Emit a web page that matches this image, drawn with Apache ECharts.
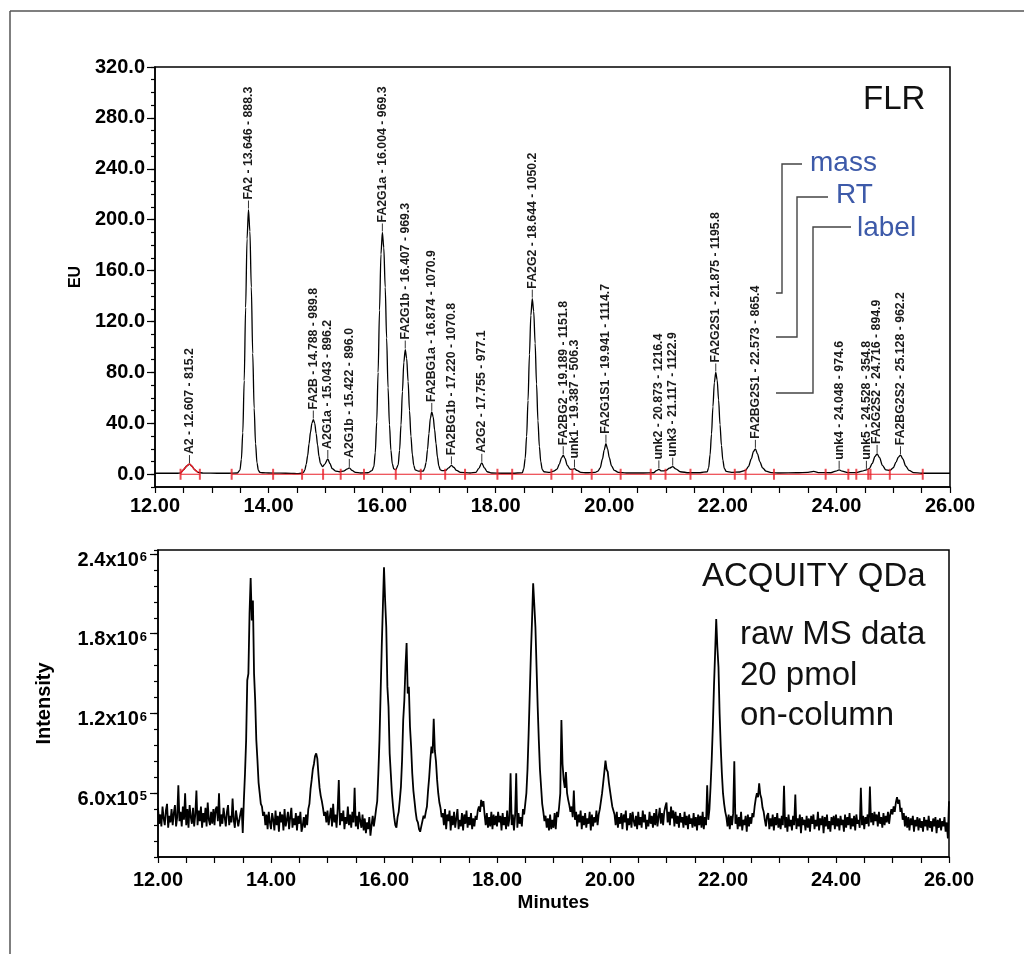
<!DOCTYPE html>
<html>
<head>
<meta charset="utf-8">
<title>FLR / ACQUITY QDa</title>
<script src="https://cdn.jsdelivr.net/npm/echarts@6/dist/echarts.min.js"></script>
<style>
  html, body { margin: 0; padding: 0; background: #fff; }
  #chart { width: 1024px; height: 954px; }
</style>
</head>
<body>
<div id="chart"></div>
<script>
  // FLR trace, [minutes, EU]
  let flrTrace = [
    [12.0,0.8],[12.2,0.8],[12.4,0.8],[12.45,1],[12.5,3.5],[12.56,6.5],[12.607,8],[12.65,6.3],[12.70,3.5],[12.76,1.5],[12.85,0.9],[13.1,0.8],[13.3,0.8],[13.45,1],
    [13.496,3.3],[13.521,11.6],[13.546,32.7],[13.571,73.6],[13.596,131],[13.621,185],[13.646,208],
    [13.671,191],[13.696,147],[13.721,95],[13.746,52],[13.771,24],[13.796,9],[13.821,3],[13.846,1.5],
    [13.9,1.2],[14.0,1],[14.2,0.9],[14.4,0.7],[14.5,0.5],[14.6,1],
    [14.613,1.5],[14.638,3.3],[14.663,7.8],[14.688,14.6],[14.713,24],[14.738,33],[14.763,40],[14.788,43],
    [14.813,40],[14.838,32],[14.863,23],[14.888,14],[14.913,8.5],[14.95,6],[14.99,8],[15.043,12],[15.08,8.5],[15.12,4.5],
    [15.18,2.5],[15.25,2],[15.32,2.5],[15.38,4],[15.422,5],[15.47,3],[15.53,1.5],[15.62,1],[15.75,1.2],[15.82,2.8],
    [15.854,6],[15.879,17],[15.904,41],[15.929,80],[15.954,129],[15.979,173],[16.004,190],
    [16.029,178],[16.054,147],[16.079,107],[16.104,68],[16.129,39],[16.154,19],[16.179,8.4],[16.204,4.3],[16.24,3.5],
    [16.282,7.4],[16.307,18.8],[16.332,38.7],[16.357,65],[16.382,88],[16.407,98],
    [16.432,91],[16.457,73],[16.482,50],[16.507,30],[16.532,15.4],[16.557,7],[16.582,3.5],[16.64,2.5],
    [16.724,2.5],[16.749,4.7],[16.774,9.4],[16.799,19.4],[16.824,32],[16.849,44],[16.874,49],
    [16.899,45],[16.924,35],[16.949,24],[16.974,13.4],[16.999,6.4],[17.024,3.5],[17.06,2.8],
    [17.12,3],[17.17,5],[17.22,7],[17.26,5.5],[17.31,3],[17.38,1.5],
    [17.55,1],[17.65,1.5],[17.70,4.5],[17.755,9],[17.8,5],[17.85,2],[17.93,1],[18.1,0.8],[18.3,0.8],
    [18.469,1.2],[18.494,4.3],[18.519,12.4],[18.544,29.7],[18.569,58],[18.594,94],[18.619,125],[18.644,138],
    [18.669,128],[18.694,103],[18.719,71],[18.744,42],[18.769,21.7],[18.794,9.7],[18.819,3.7],[18.85,2],[18.95,1.5],[19.02,2.5],
    [19.08,4],[19.12,8],[19.16,13],[19.189,15],[19.22,12.5],[19.26,7],[19.31,4],[19.35,3.8],[19.387,4.5],[19.43,3],[19.5,1.5],[19.6,1.2],[19.75,1.5],
    [19.8,2.5],[19.84,5],[19.88,12],[19.91,19],[19.941,24],[19.97,20],[20.0,13],[20.04,6.5],[20.09,3],[20.16,1.5],[20.3,1],
    [20.6,1],[20.78,1.2],[20.83,2.8],[20.873,3.8],[20.92,2.6],[20.99,2.8],[21.06,4.8],[21.117,6],[21.17,4.2],[21.25,2],[21.4,1.2],[21.6,1.2],
    [21.725,2],[21.75,5.3],[21.775,15.4],[21.80,31.6],[21.825,53],[21.85,72],[21.875,80],
    [21.90,74],[21.925,58.4],[21.95,39],[21.975,22.7],[22.0,11.2],[22.025,4.7],[22.06,2.2],[22.15,1.5],[22.3,1.8],
    [22.40,3],[22.45,6],[22.5,12],[22.54,18],[22.573,20],[22.61,16],[22.65,10],[22.7,5],[22.76,2.5],[22.85,1.3],[23.0,1],
    [23.3,1.2],[23.5,1.5],[23.6,2.2],[23.7,1.3],[23.9,1.2],[23.99,2.5],[24.048,3.5],[24.1,2.5],[24.2,1.3],[24.35,1.3],
    [24.45,2.4],[24.528,3.5],[24.58,4.5],[24.63,8.5],[24.68,14],[24.716,16],[24.76,13],[24.81,7],[24.87,3.5],[24.94,3],
    [25.0,5],[25.05,9.5],[25.09,13.5],[25.128,15],[25.17,12],[25.22,6.5],[25.28,3],[25.36,1.3],[25.5,0.8],[25.8,0.8],[26.0,0.8]
  ];

  // labelled peaks: name - RT - mass
  let peakNames = ['A2','FA2','FA2B','A2G1a','A2G1b','FA2G1a','FA2G1b','FA2BG1a','FA2BG1b','A2G2','FA2G2',
    'FA2BG2','unk1','FA2G1S1','unk2','unk3','FA2G2S1','FA2BG2S1','unk4','unk5','FA2G2S2','FA2BG2S2'];
  let peakRT = [12.607,13.646,14.788,15.043,15.422,16.004,16.407,16.874,17.220,17.755,18.644,
    19.189,19.387,19.941,20.873,21.117,21.875,22.573,24.048,24.528,24.716,25.128];
  let peakMass = [815.2,888.3,989.8,896.2,896.0,969.3,969.3,1070.9,1070.8,977.1,1050.2,
    1151.8,506.3,1114.7,1216.4,1122.9,1195.8,865.4,974.6,354.8,894.9,962.2];
  let peakHeight = [8,208,43,12,5,190,98,49,7,9,138,15,4.5,24,3.8,6,80,20,3.5,3.5,16,15];

  // integration marks (red)
  let bounds = [12.45,12.79,13.35,14.08,14.59,14.96,15.27,15.68,16.24,16.68,17.11,17.46,18.03,18.29,
    18.98,19.35,19.69,20.20,20.73,20.99,21.43,22.21,22.40,22.90,23.81,24.21,24.35,24.56,24.60,24.94,25.52];
  let baseSegments = [[12.45,12.79],[13.35,25.52]];

  // raw QDa trace: one scan every 0.02 min from 12.00, in units of 1e5 counts (one row per minute)
  let msStart = 12.0;
  let msStep = 0.02;
  let msIntensity = [
    4.9,3.7,4.4,3.5,5.0,4.1,3.6,4.7,5.2,3.4,4.3,3.8,4.8,3.6,4.5,5.1,3.5,4.2,6.6,3.9,4.6,3.5,5.0,4.0,6.0,3.6,4.8,3.4,5.1,4.2,3.7,4.9,3.5,4.4,6.2,3.6,4.7,3.9,5.0,3.4,4.5,3.8,4.9,3.5,5.3,4.0,3.6,4.6,3.7,4.8,
    3.6,4.8,5.0,3.9,6.0,3.5,4.4,3.7,4.9,4.2,3.5,4.6,5.1,3.6,4.3,3.8,5.6,4.0,3.4,4.7,4.8,3.5,3.4,4.5,4.9,3.0,5.5,7.5,10.0,14.5,15.0,19.5,22.2,19.0,20.5,15.0,13.0,10.0,8.5,6.8,6.0,5.2,5.0,4.3,4.6,3.6,4.4,3.3,4.6,3.8,
    3.3,4.5,4.0,3.2,4.7,3.6,4.3,3.1,4.6,3.8,4.4,3.2,4.8,3.5,4.0,4.6,3.3,4.2,4.9,3.4,4.1,3.6,4.5,3.2,4.3,3.7,4.6,3.1,3.5,4.2,3.4,4.4,3.6,4.8,5.2,6.3,7.0,7.8,8.2,8.8,9.0,8.6,7.4,6.4,5.8,5.4,4.9,4.3,4.6,3.8,
    4.7,3.6,4.2,4.9,3.5,5.2,3.8,4.4,3.4,4.8,7.0,3.6,4.5,3.9,4.7,3.3,4.2,3.7,5.0,3.6,4.4,3.4,4.6,3.8,6.4,3.5,4.3,3.3,4.6,3.9,3.4,4.4,3.2,4.1,3.0,3.8,3.3,4.2,2.8,3.6,4.3,3.5,4.1,4.8,5.4,7.5,10.0,13.5,17.0,20.0,
    23.0,20.5,18.5,14.0,12.5,9.0,7.5,6.0,5.0,4.2,3.6,3.4,4.2,4.6,5.5,6.5,8.5,11.5,13.0,15.5,17.3,13.5,14.0,11.0,9.5,7.5,6.2,5.4,4.6,4.0,3.8,3.3,3.1,3.5,3.6,4.3,4.1,4.6,5.0,6.2,7.2,8.5,9.5,9.0,11.6,9.2,8.4,7.0,6.0,5.3,
    4.9,4.2,4.5,3.6,4.8,3.3,4.4,3.9,4.7,3.2,4.3,3.6,4.6,3.4,4.1,4.8,3.3,4.0,3.5,4.5,3.2,4.4,3.7,4.7,3.4,4.2,3.6,4.5,3.3,4.1,3.5,4.3,4.0,4.7,5.0,4.6,5.5,5.0,5.4,4.4,3.6,4.5,3.4,4.2,3.5,4.6,3.3,4.4,3.6,4.3,
    3.5,4.6,3.8,4.3,3.2,4.5,3.6,4.2,3.3,4.7,3.5,4.1,7.5,3.6,4.4,3.2,4.3,7.5,3.4,4.5,3.7,4.2,3.5,4.8,4.4,5.2,6.0,7.8,10.5,13.5,16.5,19.0,21.8,20.2,18.5,15.5,12.5,10.0,7.8,6.5,5.2,4.6,3.9,4.3,3.4,4.1,3.2,4.4,3.3,4.0,
    3.4,4.5,3.3,4.6,4.2,5.0,6.0,11.5,8.2,7.0,6.4,7.6,6.0,5.5,5.1,4.6,5.0,4.2,6.2,4.0,4.6,3.5,4.4,3.8,4.7,3.3,4.3,3.6,4.5,3.4,4.1,3.7,4.6,3.2,4.4,3.5,4.2,3.8,4.7,3.6,4.4,4.8,5.4,6.0,6.8,7.6,8.45,7.8,7.6,6.8,
    6.2,5.6,5.0,4.7,4.4,3.6,4.6,3.4,4.2,3.7,4.5,3.3,4.4,3.8,4.7,3.2,4.1,3.6,4.5,3.4,4.6,3.9,3.5,4.3,3.3,4.6,3.6,4.2,3.4,4.7,3.8,4.4,3.3,4.0,3.5,4.6,3.7,4.3,3.4,4.5,3.6,4.8,3.5,4.2,4.9,3.7,4.5,3.6,4.6,5.0,
    5.3,3.8,4.6,3.6,5.0,4.1,4.7,3.5,4.6,3.7,4.3,3.4,4.5,3.8,4.2,3.4,4.6,3.6,4.3,3.3,4.4,3.7,4.1,3.4,4.5,3.5,4.2,3.2,4.4,3.6,4.3,3.4,4.6,3.3,4.2,3.6,6.6,4.0,4.8,6.5,8.5,11.0,14.0,16.5,19.1,17.0,15.5,12.0,9.5,7.5,
    6.0,5.2,4.6,4.2,3.5,4.4,3.3,4.3,3.6,4.5,8.4,3.7,4.4,3.3,4.2,3.5,4.6,3.2,4.0,3.6,4.3,3.1,4.4,3.5,4.2,3.7,4.5,4.2,5.0,5.6,6.0,5.7,6.75,5.9,5.6,4.9,4.6,4.0,3.5,4.3,4.5,3.3,4.1,3.5,4.4,3.2,4.2,3.6,4.5,3.4,
    4.1,3.3,4.3,3.6,6.55,3.4,4.2,3.1,4.4,3.5,4.0,3.2,4.3,3.6,5.9,3.3,4.1,3.5,4.4,3.0,4.2,3.6,4.0,3.2,4.3,3.4,4.1,3.1,4.3,3.7,4.4,3.3,4.0,3.5,4.6,3.2,4.1,3.6,4.3,3.0,4.2,3.5,4.4,3.3,3.9,3.1,4.2,3.6,4.3,3.3,
    4.4,3.5,4.1,3.2,4.3,3.6,4.0,3.1,4.4,3.4,4.2,3.6,4.5,3.3,4.1,3.5,4.3,3.2,4.4,3.7,4.0,3.4,6.4,3.6,4.3,3.3,4.2,3.7,4.4,3.5,6.5,3.8,4.5,3.6,4.6,3.9,4.4,3.5,4.6,3.7,4.2,3.4,4.5,3.6,4.3,3.8,4.6,3.7,4.4,4.8,
    4.4,5.0,4.6,5.3,5.7,5.2,5.5,4.6,4.9,4.0,4.5,3.5,4.3,3.4,4.2,3.2,4.1,3.6,4.3,3.1,4.0,3.5,4.2,3.2,4.1,3.4,3.9,3.1,4.2,3.5,4.0,3.2,4.3,3.4,3.9,3.1,4.1,3.5,4.2,3.0,4.0,3.4,4.1,3.2,3.9,3.5,4.2,3.1,3.8,2.6,
    5.4
  ];

  let timeTicks = [12, 14, 16, 18, 20, 22, 24, 26];
  let euTicks = [0, 40, 80, 120, 160, 200, 240, 280, 320];
  let msTicks = [6e5, 1.2e6, 1.8e6, 2.4e6];

  let font = '"Liberation Sans", Arial, sans-serif';
  let chart = echarts.init(document.getElementById('chart'));

  function timeAxis(gridIndex, margin) {
    return {
      type: 'value', gridIndex: gridIndex, min: 12, max: 26, interval: 0.5,
      axisLine: {show: true, onZero: false, lineStyle: {color: '#000', width: 1.5}},
      axisTick: {show: true, length: 6, lineStyle: {color: '#000', width: 1.2}},
      axisLabel: {
        customValues: timeTicks, margin: margin,
        color: '#000', fontFamily: font, fontWeight: 'bold', fontSize: 20,
        formatter: function (v) { return v.toFixed(2) }
      },
      splitLine: {show: false}
    }
  }

  let labelSeries = {
    type: 'custom', xAxisIndex: 0, yAxisIndex: 0, z: 5,
    data: peakRT.map(function (rt, i) { return [rt, peakHeight[i]] }),
    renderItem: function (params, api) {
      let p = api.coord([api.value(0), api.value(1)]);
      let i = params.dataIndex;
      let text = peakNames[i] + ' - ' + peakRT[i].toFixed(3) + ' - ' + peakMass[i].toFixed(1);
      return {
        type: 'group',
        children: [
          {type: 'line', shape: {x1: p[0], y1: p[1] - 1, x2: p[0], y2: p[1] - 9},
            style: {stroke: '#333', lineWidth: 1}},
          {type: 'text', x: p[0], y: p[1] - 10, rotation: Math.PI / 2,
            style: {text: text, align: 'left', verticalAlign: 'middle',
              font: 'bold 12.3px ' + font, fill: '#1a1a1a'}}
        ]
      }
    }
  };

  let series = [
    {
      type: 'line', xAxisIndex: 0, yAxisIndex: 0, data: flrTrace,
      smooth: 0.3, smoothMonotone: 'x', symbol: 'none', z: 2,
      lineStyle: {color: '#000', width: 1.3}
    },
    {
      type: 'line', xAxisIndex: 0, yAxisIndex: 0, z: 3, symbol: 'none', smooth: 0.3,
      data: flrTrace.filter(function (p) { return p[0] >= bounds[0] && p[0] <= bounds[1] }),
      lineStyle: {color: '#e8202a', width: 1.5}
    }
  ];
  baseSegments.forEach(function (seg) {
    series.push({
      type: 'line', xAxisIndex: 0, yAxisIndex: 0, z: 3, symbol: 'none',
      data: [[seg[0], 0], [seg[1], 0]],
      lineStyle: {color: '#e8202a', width: 1.2}
    })
  });
  series.push({
    type: 'scatter', xAxisIndex: 0, yAxisIndex: 0, z: 4,
    data: bounds.map(function (b) { return [b, 0] }),
    symbol: 'rect', symbolSize: [2, 11],
    itemStyle: {color: '#e8202a'}
  });
  series.push(labelSeries);
  series.push({
    type: 'line', xAxisIndex: 1, yAxisIndex: 2, symbol: 'none', z: 2,
    data: msIntensity.map(function (v, i) { return [msStart + i * msStep, v * 1e5] }),
    lineStyle: {color: '#000', width: 1.8}
  });

  let option = {
    animation: false,
    backgroundColor: '#fff',
    grid: [
      {left: 155, top: 67, width: 795, height: 420, show: true, borderColor: '#000', borderWidth: 1.5},
      {left: 158, top: 550, width: 791, height: 307, show: true, borderColor: '#000', borderWidth: 1.5}
    ],
    xAxis: [
      timeAxis(0, 9),
      Object.assign(timeAxis(1, 13), {
        name: 'Minutes', nameLocation: 'middle', nameGap: 36,
        nameTextStyle: {color: '#000', fontFamily: font, fontWeight: 'bold', fontSize: 19}
      })
    ],
    yAxis: [
      {
        type: 'value', gridIndex: 0, min: -10, max: 320, interval: 10,
        name: 'EU', nameLocation: 'middle', nameGap: 60,
        nameTextStyle: {color: '#000', fontFamily: font, fontWeight: 'bold', fontSize: 16},
        axisLine: {show: true, onZero: false, lineStyle: {color: '#000', width: 1.5}},
        axisTick: {show: true, length: 4, lineStyle: {color: '#000', width: 1.2}},
        axisLabel: {
          customValues: euTicks, margin: 10,
          color: '#000', fontFamily: font, fontWeight: 'bold', fontSize: 20,
          formatter: function (v) { return v.toFixed(1) }
        },
        splitLine: {show: false}
      },
      {
        // longer ticks at the labelled values
        type: 'value', gridIndex: 0, min: -10, max: 320, position: 'left',
        axisLine: {show: false},
        axisTick: {show: true, customValues: euTicks, length: 8, lineStyle: {color: '#000', width: 1.2}},
        axisLabel: {show: false},
        splitLine: {show: false}
      },
      {
        type: 'value', gridIndex: 1, min: 1.2e5, max: 2.43e6, interval: 1.2e5,
        name: 'Intensity', nameLocation: 'middle', nameGap: 104,
        nameTextStyle: {color: '#000', fontFamily: font, fontWeight: 'bold', fontSize: 20},
        axisLine: {show: true, onZero: false, lineStyle: {color: '#000', width: 1.5}},
        axisTick: {show: true, length: 4, lineStyle: {color: '#000', width: 1.2}},
        axisLabel: {
          customValues: msTicks, margin: 11,
          formatter: function (v) {
            let e = Math.floor(Math.log10(v));
            let m = (v / Math.pow(10, e)).toFixed(1);
            return '{m|' + m + 'x10}{e|' + e + '}';
          },
          rich: {
            m: {color: '#000', fontFamily: font, fontWeight: 'bold', fontSize: 20, lineHeight: 20, padding: [12, 0, 0, 0]},
            e: {color: '#000', fontFamily: font, fontWeight: 'bold', fontSize: 13, lineHeight: 13,
              verticalAlign: 'top', padding: [7, 0, 0, 1]}
          }
        },
        splitLine: {show: false}
      },
      {
        type: 'value', gridIndex: 1, min: 1.2e5, max: 2.43e6, position: 'left',
        axisLine: {show: false},
        axisTick: {show: true, customValues: msTicks, length: 8, lineStyle: {color: '#000', width: 1.2}},
        axisLabel: {show: false},
        splitLine: {show: false}
      }
    ],
    graphic: [
      {type: 'line', shape: {x1: 10, y1: 11, x2: 1024, y2: 11}, style: {stroke: '#555', lineWidth: 1.5}},
      {type: 'line', shape: {x1: 10, y1: 11, x2: 10, y2: 954}, style: {stroke: '#555', lineWidth: 1.5}},
      {type: 'text', x: 863, y: 100, style: {text: 'FLR', font: '33px ' + font, fill: '#111', verticalAlign: 'middle'}},
      {type: 'polyline', shape: {points: [[802, 164], [782, 164], [782, 293], [776, 293]]},
        style: {stroke: '#444', lineWidth: 1.4, fill: null}},
      {type: 'polyline', shape: {points: [[828, 197], [797, 197], [797, 337], [776, 337]]},
        style: {stroke: '#444', lineWidth: 1.4, fill: null}},
      {type: 'polyline', shape: {points: [[851, 227], [813, 227], [813, 393], [776, 393]]},
        style: {stroke: '#444', lineWidth: 1.4, fill: null}},
      {type: 'text', x: 810, y: 163, style: {text: 'mass', font: '28px ' + font, fill: '#3d5aa9', verticalAlign: 'middle'}},
      {type: 'text', x: 836, y: 195, style: {text: 'RT', font: '28px ' + font, fill: '#3d5aa9', verticalAlign: 'middle'}},
      {type: 'text', x: 857, y: 228, style: {text: 'label', font: '28px ' + font, fill: '#3d5aa9', verticalAlign: 'middle'}},
      {type: 'text', x: 702, y: 577, style: {text: 'ACQUITY QDa', font: '33px ' + font, fill: '#111', verticalAlign: 'middle'}},
      {type: 'text', x: 740, y: 635, style: {text: 'raw MS data', font: '33px ' + font, fill: '#111', verticalAlign: 'middle'}},
      {type: 'text', x: 740, y: 676, style: {text: '20 pmol', font: '33px ' + font, fill: '#111', verticalAlign: 'middle'}},
      {type: 'text', x: 740, y: 716, style: {text: 'on-column', font: '33px ' + font, fill: '#111', verticalAlign: 'middle'}}
    ],
    series: series
  };
  chart.setOption(option);
</script>
</body>
</html>
